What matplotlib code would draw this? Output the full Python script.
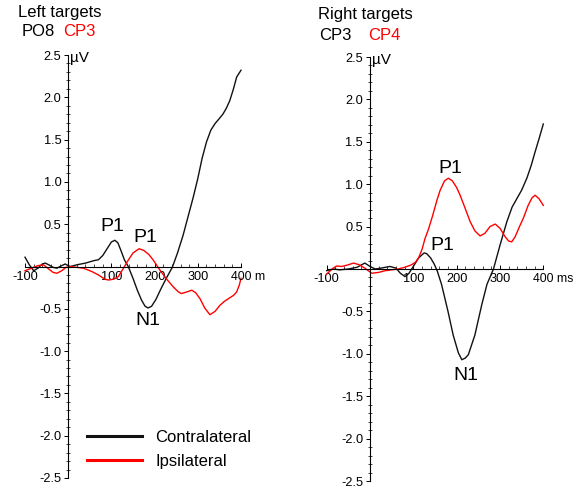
import matplotlib.pyplot as plt
from matplotlib.ticker import MultipleLocator, FixedLocator, FixedFormatter

plt.rcParams['font.family'] = ['Liberation Sans', 'DejaVu Sans']

# Left targets (PO8 contralateral, CP3 ipsilateral)
left_contra_t = [-100, -90, -80, -70, -60, -53, -45, -35, -26, -15, -7, 0, 5, 20, 40, 60, 70, 80, 90,
                 100, 108, 115, 122, 130, 139, 150, 160, 170, 178, 185, 193, 203, 215, 228, 241, 253,
                 266, 278, 289, 300, 310, 320, 330, 340, 350, 358, 366, 374, 382, 390, 400]
left_contra_v = [0.11, 0.02, -0.05, -0.02, 0.03, 0.04, 0.02, -0.01, -0.02, 0.01, 0.03, 0.01, 0.0, 0.02,
                 0.04, 0.07, 0.08, 0.13, 0.21, 0.29, 0.31, 0.28, 0.19, 0.08, 0.0, -0.14, -0.28, -0.40,
                 -0.47, -0.49, -0.47, -0.39, -0.26, -0.13, -0.01, 0.16, 0.37, 0.60, 0.81, 1.04, 1.28,
                 1.47, 1.61, 1.69, 1.75, 1.80, 1.87, 1.96, 2.09, 2.24, 2.32]

left_ipsi_t = [-100, -90, -80, -70, -57, -45, -35, -26, -15, -5, 5, 20, 35, 55, 70, 85, 93, 105, 116,
               128, 139, 150, 164, 175, 187, 197, 212, 228, 243, 255, 262, 275, 286, 295, 305, 316,
               328, 340, 351, 362, 374, 383, 390, 396, 400]
left_ipsi_v = [-0.05, -0.03, -0.01, 0.01, 0.02, -0.03, -0.07, -0.08, -0.05, -0.01, 0.0, -0.01, -0.02,
               -0.06, -0.10, -0.15, -0.16, -0.15, -0.12, -0.02, 0.075, 0.16, 0.21, 0.19, 0.14, 0.075,
               -0.04, -0.15, -0.24, -0.30, -0.32, -0.30, -0.28, -0.31, -0.38, -0.49, -0.57, -0.53,
               -0.46, -0.41, -0.37, -0.34, -0.30, -0.22, -0.14]

# Right targets (CP3 contralateral, CP4 ipsilateral)
right_contra_t = [-100, -85, -70, -50, -30, -12, 0, 12, 25, 46, 60, 70, 81, 90, 100, 112, 125, 131,
                  140, 148, 155, 165, 173, 180, 192, 204, 212, 220, 227, 242, 258, 270, 285, 300,
                  316, 328, 339, 350, 362, 372, 381, 391, 400]
right_contra_v = [-0.02, 0.0, -0.01, 0.0, 0.02, 0.07, 0.03, 0.0, 0.01, 0.03, 0.01, -0.05, -0.09, -0.05,
                  0.03, 0.13, 0.19, 0.18, 0.13, 0.06, -0.02, -0.18, -0.35, -0.50, -0.78, -0.99, -1.07,
                  -1.05, -1.01, -0.78, -0.42, -0.18, 0.0, 0.28, 0.56, 0.73, 0.83, 0.93, 1.07, 1.22,
                  1.38, 1.55, 1.71]

right_ipsi_t = [-100, -96, -85, -77, -65, -50, -38, -25, -12, 4, 20, 35, 50, 65, 80, 96, 105, 112, 120,
                127, 135, 144, 155, 162, 172, 181, 190, 200, 208, 220, 231, 242, 254, 265, 277, 289,
                300, 312, 320, 327, 335, 345, 354, 365, 374, 381, 390, 400]
right_ipsi_v = [-0.06, -0.04, 0.01, 0.035, 0.03, 0.05, 0.07, 0.05, 0.01, -0.05, -0.04, -0.02, -0.01,
                0.0, 0.02, 0.05, 0.08, 0.13, 0.23, 0.36, 0.47, 0.62, 0.82, 0.93, 1.04, 1.07, 1.04,
                0.96, 0.87, 0.71, 0.56, 0.45, 0.39, 0.42, 0.50, 0.53, 0.48, 0.38, 0.33, 0.32, 0.38,
                0.50, 0.60, 0.75, 0.84, 0.87, 0.83, 0.75]

y_ticks = [-2.5, -2.0, -1.5, -1.0, -0.5, 0.5, 1.0, 1.5, 2.0, 2.5]
x_ticks = [-100, 100, 200, 300]

W, H = 574, 491
fig = plt.figure(figsize=(W / 100, H / 100), dpi=100)


def px(x, y):
    return x / W, 1 - y / H


def setup(ax, unit):
    ax.set_xlim(-100, 400)
    ax.set_ylim(-2.5, 2.5)
    for s in ['top', 'right']:
        ax.spines[s].set_visible(False)
    ax.spines['left'].set_position(('data', 0))
    ax.spines['bottom'].set_position(('data', 0))
    for s in ['left', 'bottom']:
        ax.spines[s].set_linewidth(0.8)
    ax.yaxis.set_major_locator(FixedLocator(y_ticks))
    ax.yaxis.set_major_formatter(FixedFormatter([f'{v:.1f}' for v in y_ticks]))
    ax.yaxis.set_minor_locator(MultipleLocator(0.1))
    ax.xaxis.set_major_locator(FixedLocator(x_ticks + [400]))
    ax.xaxis.set_major_formatter(FixedFormatter([str(v) for v in x_ticks] + ['']))
    ax.xaxis.set_minor_locator(MultipleLocator(20))
    ax.tick_params(axis='y', which='major', direction='out', length=3, width=0.7, pad=2, labelsize=9.2)
    ax.tick_params(axis='y', which='minor', direction='inout', length=2.5, width=0.5)
    ax.tick_params(axis='x', which='major', direction='in', length=3, width=0.7, pad=3, labelsize=9.2)
    ax.tick_params(axis='x', which='minor', direction='in', length=2, width=0.5)
    ax.annotate('400 ' + unit, xy=(400, 0), xytext=(-7.5, -3), textcoords='offset points',
                ha='left', va='top', fontsize=8.8)
    ax.annotate('µV', xy=(0, 2.5), xytext=(1.5, -2), textcoords='offset points',
                ha='left', va='center', fontsize=11)
    ax.patch.set_visible(False)


axL = fig.add_axes([25 / W, 13 / H, 216 / W, 423 / H])
setup(axL, 'm')
axL.plot(left_contra_t, left_contra_v, color='#111111', lw=1.0, clip_on=False, label='Contralateral')
axL.plot(left_ipsi_t, left_ipsi_v, color='#ff0000', lw=1.0, clip_on=False, label='Ipsilateral')
axL.text(102, 0.47, 'P1', fontsize=14, ha='center', va='center')
axL.text(178, 0.34, 'P1', fontsize=14, ha='center', va='center')
axL.text(185, -0.64, 'N1', fontsize=14, ha='center', va='center')

axR = fig.add_axes([326.7 / W, 10 / H, 216.6 / W, 424 / H])
setup(axR, 'ms')
axR.plot(right_contra_t, right_contra_v, color='#111111', lw=1.0, clip_on=False)
axR.plot(right_ipsi_t, right_ipsi_v, color='#ff0000', lw=1.0, clip_on=False)
axR.text(185, 1.19, 'P1', fontsize=14, ha='center', va='center')
axR.text(166, 0.28, 'P1', fontsize=14, ha='center', va='center')
axR.text(222, -1.25, 'N1', fontsize=14, ha='center', va='center')

leg = axL.legend(loc='upper left', bbox_to_anchor=px(87, 430), bbox_transform=fig.transFigure,
                 frameon=False, fontsize=12, handlelength=3.3, handletextpad=0.8,
                 labelspacing=0.55, borderpad=0, borderaxespad=0)
for line in leg.get_lines():
    line.set_linewidth(2.2)

# titles
fig.text(*px(18, 13), 'Left targets', fontsize=12, ha='left', va='center')
fig.text(*px(22, 32), 'PO8', fontsize=12, ha='left', va='center')
fig.text(*px(63, 32), 'CP3', fontsize=12, ha='left', va='center', color='#ff0000')
fig.text(*px(318, 15), 'Right targets', fontsize=12, ha='left', va='center')
fig.text(*px(319, 35), 'CP3', fontsize=12, ha='left', va='center')
fig.text(*px(368, 35), 'CP4', fontsize=12, ha='left', va='center', color='#ff0000')

fig.savefig('out.png', dpi=100)
